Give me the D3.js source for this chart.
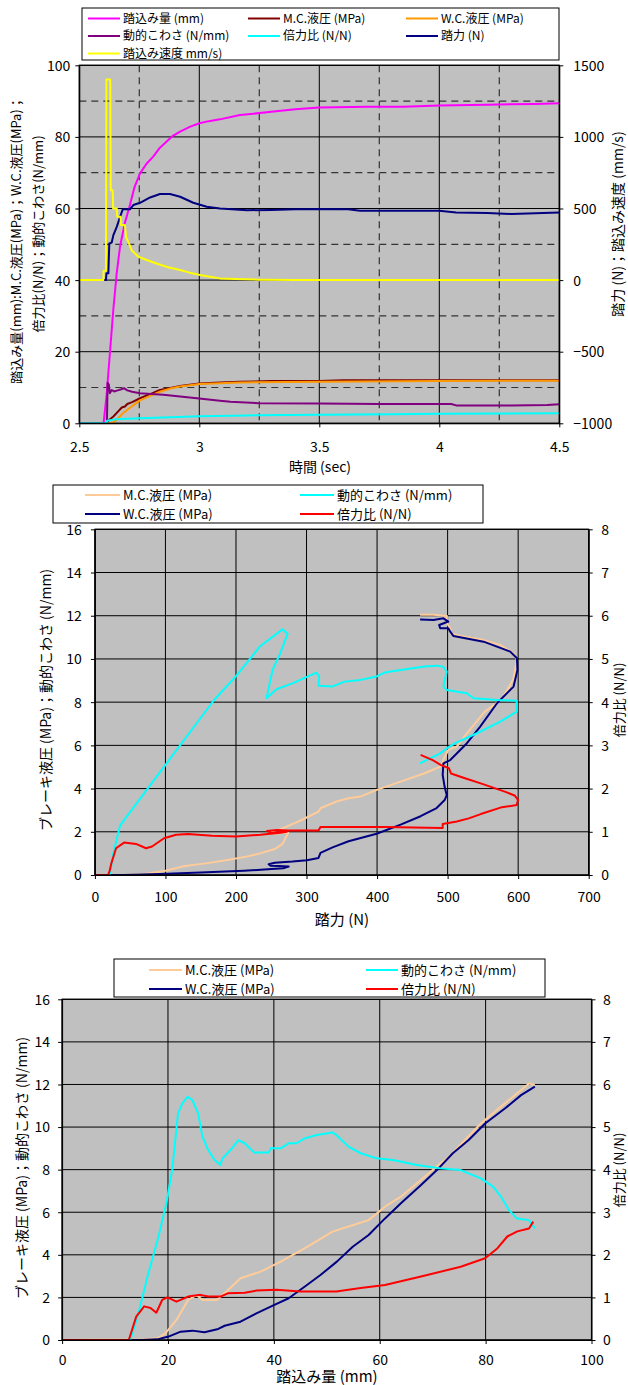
<!DOCTYPE html>
<html>
<head>
<meta charset="utf-8">
<script src="https://cdn.jsdelivr.net/npm/d3@7"></script>
<style>
  body { margin: 0; background: #fff; }
  svg text { font-family: "Noto Sans CJK JP", "Noto Sans", sans-serif; fill: #000; }
</style>
</head>
<body>
<svg id="chart" width="628" height="1385"></svg>
<script>
// ---------- Panel 1: time history (x = 時間 sec) ----------
const timeTicks = [2.5, 3, 3.5, 4, 4.5];
const timeMinorTicks = [2.75, 3.25, 3.75, 4.25];
const leftTicks1 = [0, 20, 40, 60, 80, 100];
const leftMinorTicks1 = [10, 30, 50, 70, 90];
const rightTicks1 = [-1000, -500, 0, 500, 1000, 1500];

// 踏込み量 (mm)
const pedalStroke = [[2.5,0],[2.601,0],[2.614,8],[2.628,20],[2.642,32],[2.656,42],[2.670,49.5],[2.690,56],[2.711,61],[2.730,66],[2.753,69.8],[2.780,72.5],[2.808,74.5],[2.836,77],[2.864,78.7],[2.890,80.3],[2.920,81.5],[2.960,82.8],[3.0,83.8],[3.04,84.4],[3.086,84.9],[3.17,86.1],[3.3,87.0],[3.4,87.7],[3.5,88.2],[3.7,88.4],[3.85,88.4],[4.0,88.8],[4.2,89.0],[4.4,89.2],[4.5,89.4]];
// M.C.液圧 (MPa)
const mcPressure = [[2.5,0],[2.617,0],[2.622,0.8],[2.642,1.9],[2.660,3.2],[2.677,4.4],[2.690,4.7],[2.700,5.4],[2.720,5.9],[2.753,7.0],[2.800,8.3],[2.836,9.3],[2.880,9.9],[2.920,10.4],[3.0,11.1],[3.086,11.4],[3.17,11.6],[3.3,11.8],[3.5,11.8],[3.6,12.0],[4.0,12.0],[4.5,12.0]];
// W.C.液圧 (MPa)
const wcPressure = [[2.5,0],[2.628,0],[2.642,0.3],[2.656,1.0],[2.677,2.5],[2.700,3.8],[2.720,4.8],[2.753,6.4],[2.800,7.8],[2.836,8.8],[2.880,9.7],[2.920,10.3],[3.0,11.0],[3.086,11.2],[3.17,11.4],[3.5,11.6],[4.0,11.8],[4.5,11.9]];
// 動的こわさ (N/mm)
const dynStiffness = [[2.5,0],[2.615,0],[2.618,11.3],[2.623,10.8],[2.627,8.4],[2.635,9.3],[2.645,8.9],[2.660,9.2],[2.675,9.5],[2.686,9.8],[2.700,9.2],[2.720,8.8],[2.753,8.4],[2.8,8.2],[2.85,8.0],[2.92,7.5],[2.96,7.2],[3.0,6.9],[3.086,6.3],[3.13,6.0],[3.25,5.6],[3.5,5.5],[3.75,5.4],[4.05,5.4],[4.07,5.0],[4.3,5.0],[4.45,5.1],[4.5,5.3]];
// 倍力比 (N/N)
const boostRatio = [[2.5,0],[2.613,0],[2.616,0.7],[2.65,1.1],[2.7,1.3],[2.753,1.4],[2.85,1.6],[3.0,2.0],[3.2,2.2],[3.5,2.4],[3.8,2.5],[4.0,2.7],[4.5,2.8]];
// 踏力 (N) — right axis
const pedalForce = [[2.5,0],[2.611,0],[2.613,47],[2.621,47],[2.625,256],[2.635,262],[2.642,314],[2.656,372],[2.670,442],[2.681,494],[2.711,494],[2.725,524],[2.753,540],[2.795,577],[2.836,601],[2.878,601],[2.920,582],[2.975,540],[3.031,512],[3.086,500],[3.2,488],[3.3,490],[3.4,494],[3.5,497],[3.62,494],[3.67,484],[3.85,484],[4.0,484],[4.07,472],[4.2,468],[4.3,462],[4.4,466],[4.5,472]];
// 踏込み速度 (mm/s) — right axis
const pedalSpeed = [[2.5,0],[2.6,0],[2.601,65],[2.611,65],[2.613,1400],[2.629,1400],[2.631,628],[2.639,628],[2.641,500],[2.656,500],[2.658,442],[2.672,442],[2.674,384],[2.690,384],[2.695,300],[2.704,268],[2.718,209],[2.746,163],[2.781,140],[2.822,116],[2.87,90],[2.92,70],[2.96,52],[3.003,35],[3.05,22],[3.086,12],[3.15,8],[3.25,3],[3.4,1],[4.5,0]];

// ---------- Panels 2 & 3: shared axes ----------
const pressureTicks = [0, 2, 4, 6, 8, 10, 12, 14, 16];
const ratioTicks = [0, 1, 2, 3, 4, 5, 6, 7, 8];
const forceTicks = [0, 100, 200, 300, 400, 500, 600, 700];
const strokeTicks = [0, 20, 40, 60, 80, 100];

// Panel 2: vs 踏力 (N)
const forceMC = [[0,0],[40,0],[70,0.05],[100,0.2],[125,0.4],[160,0.55],[187.6,0.69],[215,0.85],[233,0.99],[255,1.2],[266,1.44],[274,1.95],[255,1.92],[248,2.0],[262,2.1],[290,2.5],[317,2.93],[319.8,3.09],[342.6,3.4],[359.6,3.55],[376.6,3.63],[399.4,3.94],[433.4,4.32],[467.4,4.71],[490,5.02],[494,5.33],[501,5.79],[513,5.94],[527.4,6.56],[552.7,7.56],[575.4,8.1],[579.3,8.25],[593.5,9.1],[598.3,9.95],[593.5,10.26],[574.6,10.65],[546.2,10.91],[518,11.06],[503.7,11.19],[503.7,11.42],[499,11.65],[499,11.99],[480,12.04],[461,12.04]];
const forceWC = [[0,0],[40,0],[92.6,0.05],[150,0.12],[211,0.2],[240,0.25],[267,0.31],[274.7,0.39],[260,0.42],[249,0.43],[246.3,0.5],[255,0.57],[280,0.62],[300.5,0.68],[317,0.79],[319.8,1.02],[336.9,1.28],[359.6,1.56],[399.4,1.91],[433.4,2.33],[461.7,2.72],[484.4,3.1],[495.8,3.47],[498.7,3.7],[495.8,4.08],[493,4.63],[494,5.17],[503.7,5.32],[527.4,6.1],[546.2,6.87],[570,7.95],[593.5,8.72],[599,9.49],[598.3,10.03],[588.8,10.34],[551,10.8],[508.4,11.06],[503.7,11.26],[501,11.42],[489.5,11.42],[488,11.57],[501,11.73],[494,11.88],[480,11.8],[461,11.83]];
const forceStiffness = [[21,0],[26,1.0],[35.8,2.3],[100,5.1],[169,8.1],[200,9.2],[234.6,10.6],[265.9,11.37],[273.2,11.16],[262,10.2],[251.8,9.49],[243.3,8.18],[257.4,8.6],[280,8.87],[314,9.37],[318,9.19],[317,8.76],[336.9,8.73],[353.9,8.95],[376.6,9.03],[399.3,9.19],[410.6,9.37],[433.4,9.49],[467.5,9.65],[484.5,9.69],[494,9.64],[498.7,9.42],[494,8.72],[499,8.56],[527,8.41],[536.7,8.18],[570,8.1],[598,8.07],[598,7.56],[574.6,7.1],[541.6,6.56],[510.8,6.1],[499,5.87],[489.5,5.63],[475,5.4],[461,5.17]];
const forceRatio = [[0,0],[18.7,0],[21,0.1],[23.3,0.27],[30,0.62],[41.3,0.75],[58.3,0.72],[72.5,0.62],[81,0.66],[98,0.85],[115,0.93],[132,0.95],[166,0.91],[200,0.89],[234.5,0.93],[262.9,0.98],[272,1.0],[250,0.97],[244,1.02],[258,1.04],[274,1.03],[317,1.03],[319.8,1.11],[376.6,1.11],[410.7,1.11],[493,1.09],[493,1.18],[513,1.24],[530,1.31],[547,1.41],[575,1.56],[598,1.62],[599.8,1.74],[595,1.84],[581,1.93],[547,2.12],[524.6,2.24],[504.7,2.35],[501.9,2.47],[490,2.55],[478.8,2.66],[461.7,2.78]];

// Panel 3: vs 踏込み量 (mm)
const strokeMC = [[0,0],[15,0.02],[18,0.08],[19.5,0.31],[21.6,0.94],[23.8,1.88],[25.4,2.11],[26.5,1.88],[29.2,1.88],[31.0,2.27],[33.7,2.9],[37.5,3.21],[41.3,3.68],[45.8,4.3],[51.1,5.09],[55,5.4],[57.9,5.63],[61,6.26],[64,6.73],[68.5,7.67],[71.5,8.3],[73.1,8.61],[76.1,9.39],[79.1,10.17],[82.9,10.96],[86.7,11.74],[88.2,12.05],[89.3,11.98]];
const strokeWC = [[0,0],[15,0],[18,0.03],[20.1,0.16],[22.4,0.39],[24.6,0.44],[26.9,0.36],[29.5,0.52],[30.7,0.67],[33.7,0.86],[36.7,1.25],[39.7,1.6],[42.8,1.96],[45.8,2.5],[48.8,3.05],[51.9,3.68],[54.9,4.38],[57.9,4.93],[61,5.71],[64,6.42],[67.8,7.28],[70.8,7.98],[73.8,8.77],[76.8,9.39],[79.9,10.17],[83.7,10.88],[86.7,11.5],[89.3,11.9]];
const strokeStiffness = [[12.9,0],[14.4,1.25],[16.3,3.13],[18.2,4.85],[19.7,6.42],[20.8,8.0],[21.9,10.64],[22.7,11.11],[23.7,11.42],[24.6,11.27],[25.7,10.64],[26.5,9.55],[27.6,8.92],[28.8,8.45],[29.9,8.22],[30.3,8.53],[31.8,8.92],[33.3,9.39],[34.5,9.24],[36.3,8.8],[39.0,8.8],[39.4,9.0],[41.3,9.0],[42.8,9.24],[44.3,9.24],[45.8,9.47],[48.1,9.63],[51.1,9.74],[51.8,9.63],[54.1,9.08],[56.4,8.77],[59.4,8.53],[62.5,8.45],[67,8.22],[71.5,8.06],[75.3,7.98],[79.1,7.59],[81.4,7.2],[82.9,6.73],[84.4,6.1],[85.9,5.71],[88.2,5.63],[89.3,5.24]];
const strokeRatio = [[0,0],[12.6,0],[14.0,0.55],[15.5,0.79],[16.7,0.75],[17.8,0.64],[18.9,0.94],[19.9,1.0],[21.6,0.9],[23.8,1.02],[26.1,1.06],[27.6,1.02],[29.9,1.02],[31.4,1.1],[34.5,1.11],[36.7,1.16],[40.5,1.18],[45,1.14],[51.8,1.14],[56.4,1.22],[61,1.29],[67.8,1.49],[75.3,1.72],[79.9,1.92],[82.2,2.15],[84.1,2.43],[86,2.55],[88.2,2.62],[89,2.78]];

// ---------- drawing ----------
const svg = d3.select("#chart");
const FONT = '"Noto Sans CJK JP", "Noto Sans", sans-serif';
const plain = d3.format("");

function panel(o) {
  const x = d3.scaleLinear().domain(o.xDomain).range([o.left, o.right]);
  const y = d3.scaleLinear().domain(o.yDomain).range([o.bottom, o.top]);
  const y2 = d3.scaleLinear().domain(o.y2Domain).range([o.bottom, o.top]);
  const g = svg.append("g");

  g.append("rect")
    .attr("x", o.left).attr("y", o.top)
    .attr("width", o.right - o.left).attr("height", o.bottom - o.top)
    .attr("fill", "#c0c0c0");

  // dashed minor grid
  g.selectAll(null).data(o.xMinor || []).join("line")
    .attr("x1", d => x(d)).attr("x2", d => x(d))
    .attr("y1", o.top).attr("y2", o.bottom)
    .attr("stroke", "#333").attr("stroke-width", 1.2).attr("stroke-dasharray", "7,5");
  g.selectAll(null).data(o.yMinor || []).join("line")
    .attr("x1", o.left).attr("x2", o.right)
    .attr("y1", d => y(d)).attr("y2", d => y(d))
    .attr("stroke", "#333").attr("stroke-width", 1.2).attr("stroke-dasharray", "7,5");

  // solid major grid
  g.selectAll(null).data(o.xTicks).join("line")
    .attr("x1", d => x(d)).attr("x2", d => x(d))
    .attr("y1", o.top).attr("y2", o.bottom)
    .attr("stroke", "#000").attr("stroke-width", 1);
  g.selectAll(null).data(o.yTicks).join("line")
    .attr("x1", o.left).attr("x2", o.right)
    .attr("y1", d => y(d)).attr("y2", d => y(d))
    .attr("stroke", "#000").attr("stroke-width", 1);

  const clipId = "clip" + Math.round(o.top);
  svg.append("clipPath").attr("id", clipId)
    .append("rect").attr("x", o.left).attr("y", o.top)
    .attr("width", o.right - o.left).attr("height", o.bottom - o.top);
  const plot = g.append("g").attr("clip-path", `url(#${clipId})`);

  // axes
  const styleAxis = sel => {
    sel.attr("font-size", 14).attr("font-family", FONT);
    sel.select(".domain").attr("stroke", "#000");
    sel.selectAll(".tick line").attr("stroke", "#000");
    sel.selectAll("text").attr("fill", "#000");
  };
  g.append("g").attr("transform", `translate(0,${o.bottom})`)
    .call(d3.axisBottom(x).tickValues(o.xTicks).tickSize(4).tickSizeOuter(0).tickFormat(plain))
    .call(styleAxis)
    .call(s => s.selectAll("text").attr("y", o.xLabelOffset).attr("dy", "0.35em"));
  g.append("g").attr("transform", `translate(${o.left},0)`)
    .call(d3.axisLeft(y).tickValues(o.yTicks).tickSize(4).tickSizeOuter(0).tickPadding(o.yPad).tickFormat(plain))
    .call(styleAxis)
    .call(s => s.selectAll("text").attr("dy", "0.35em"));
  g.append("g").attr("transform", `translate(${o.right},0)`)
    .call(d3.axisRight(y2).tickValues(o.y2Ticks).tickSize(4).tickSizeOuter(0).tickPadding(o.y2Pad).tickFormat(plain))
    .call(styleAxis)
    .call(s => s.selectAll("text").attr("dy", "0.35em"));

  g.append("rect")
    .attr("x", o.left).attr("y", o.top)
    .attr("width", o.right - o.left).attr("height", o.bottom - o.top)
    .attr("fill", "none").attr("stroke", "#000").attr("stroke-width", 1.2);

  return { x, y, y2, g, plot };
}

function series(p, data, color, useRight, width) {
  const ys = useRight ? p.y2 : p.y;
  p.plot.append("path")
    .datum(data)
    .attr("fill", "none")
    .attr("stroke", color)
    .attr("stroke-width", width || 2)
    .attr("stroke-linejoin", "round")
    .attr("d", d3.line().x(d => p.x(d[0])).y(d => ys(d[1])));
}

function legend(box, items, fontSize) {
  const g = svg.append("g");
  g.append("rect").attr("x", box.x).attr("y", box.y).attr("width", box.w).attr("height", box.h)
    .attr("fill", "#fff").attr("stroke", "#000").attr("stroke-width", 1);
  items.forEach(it => {
    g.append("line").attr("x1", it.lx).attr("x2", it.lx + it.len)
      .attr("y1", it.y).attr("y2", it.y).attr("stroke", it.color).attr("stroke-width", 2);
    g.append("text").attr("x", it.lx + it.len + 3).attr("y", it.y).attr("dy", "0.35em")
      .attr("font-size", fontSize).text(it.label);
  });
}

function vtitle(x, y, text, size) {
  svg.append("text").attr("transform", `translate(${x},${y}) rotate(-90)`)
    .attr("text-anchor", "middle").attr("dy", "0.35em").attr("font-size", size).text(text);
}
function htitle(x, y, text, size) {
  svg.append("text").attr("x", x).attr("y", y).attr("text-anchor", "middle")
    .attr("dy", "0.35em").attr("font-size", size).text(text);
}

// ----- Panel 1 -----
const p1 = panel({
  left: 79.3, right: 559.3, top: 65.3, bottom: 423.3,
  xDomain: [2.5, 4.5], yDomain: [0, 100], y2Domain: [-1000, 1500],
  xTicks: timeTicks, xMinor: timeMinorTicks,
  yTicks: leftTicks1, yMinor: leftMinorTicks1, y2Ticks: rightTicks1,
  xLabelOffset: 23.5, yPad: 5, y2Pad: 10
});
series(p1, pedalStroke, "#ff00ff");
series(p1, mcPressure, "#800000");
series(p1, wcPressure, "#ff9900");
series(p1, dynStiffness, "#800080");
series(p1, boostRatio, "#00ffff");
series(p1, pedalForce, "#000080", true);
series(p1, pedalSpeed, "#ffff00", true);

legend({ x: 82, y: 8, w: 477, h: 52 }, [
  { lx: 88, len: 32, y: 18.5, color: "#ff00ff", label: "踏込み量 (mm)" },
  { lx: 248, len: 32, y: 18.5, color: "#800000", label: "M.C.液圧 (MPa)" },
  { lx: 406, len: 32, y: 18.5, color: "#ff9900", label: "W.C.液圧 (MPa)" },
  { lx: 88, len: 32, y: 36, color: "#800080", label: "動的こわさ (N/mm)" },
  { lx: 248, len: 32, y: 36, color: "#00ffff", label: "倍力比 (N/N)" },
  { lx: 406, len: 32, y: 36, color: "#000080", label: "踏力 (N)" },
  { lx: 88, len: 32, y: 53.5, color: "#ffff00", label: "踏込み速度 mm/s)" }
], 12);

vtitle(16, 240, "踏込み量(mm):M.C.液圧(MPa)；W.C.液圧(MPa)；", 13);
vtitle(38, 234, "倍力比(N/N)；動的こわさ(N/mm)", 13);
vtitle(618, 224, "踏力 (N)；踏込み速度 (mm/s)", 14);
htitle(320, 467, "時間 (sec)", 14);

// ----- Panel 2 -----
const p2 = panel({
  left: 94.9, right: 588.7, top: 529.3, bottom: 875,
  xDomain: [0, 700], yDomain: [0, 16], y2Domain: [0, 8],
  xTicks: forceTicks, yTicks: pressureTicks, y2Ticks: ratioTicks,
  xLabelOffset: 22, yPad: 9, y2Pad: 8.5
});
series(p2, forceMC, "#ffcc99");
series(p2, forceWC, "#000080");
series(p2, forceStiffness, "#00ffff");
series(p2, forceRatio, "#ff0000", true);

legend({ x: 53, y: 485, w: 430, h: 38 }, [
  { lx: 85, len: 35, y: 495, color: "#ffcc99", label: "M.C.液圧 (MPa)" },
  { lx: 300, len: 34, y: 495, color: "#00ffff", label: "動的こわさ (N/mm)" },
  { lx: 85, len: 35, y: 514, color: "#000080", label: "W.C.液圧 (MPa)" },
  { lx: 300, len: 34, y: 514, color: "#ff0000", label: "倍力比 (N/N)" }
], 13);

vtitle(46, 700, "ブレーキ液圧 (MPa)；動的こわさ (N/mm)", 14);
vtitle(619, 700, "倍力比 (N/N)", 13);
htitle(342, 920, "踏力 (N)", 15);

// ----- Panel 3 -----
const p3 = panel({
  left: 62.1, right: 591.5, top: 999.3, bottom: 1340,
  xDomain: [0, 100], yDomain: [0, 16], y2Domain: [0, 8],
  xTicks: strokeTicks, yTicks: pressureTicks, y2Ticks: ratioTicks,
  xLabelOffset: 20, yPad: 8, y2Pad: 7.5
});
series(p3, strokeMC, "#ffcc99");
series(p3, strokeWC, "#000080");
series(p3, strokeStiffness, "#00ffff");
series(p3, strokeRatio, "#ff0000", true);

legend({ x: 114, y: 959, w: 431, h: 38 }, [
  { lx: 149, len: 33, y: 970, color: "#ffcc99", label: "M.C.液圧 (MPa)" },
  { lx: 366, len: 32, y: 970, color: "#00ffff", label: "動的こわさ (N/mm)" },
  { lx: 149, len: 33, y: 989, color: "#000080", label: "W.C.液圧 (MPa)" },
  { lx: 366, len: 32, y: 989, color: "#ff0000", label: "倍力比 (N/N)" }
], 13);

vtitle(22, 1168, "ブレーキ液圧 (MPa)；動的こわさ (N/mm)", 14);
vtitle(619, 1170, "倍力比 (N/N)", 13);
htitle(327, 1377, "踏込み量 (mm)", 15);
</script>
</body>
</html>
